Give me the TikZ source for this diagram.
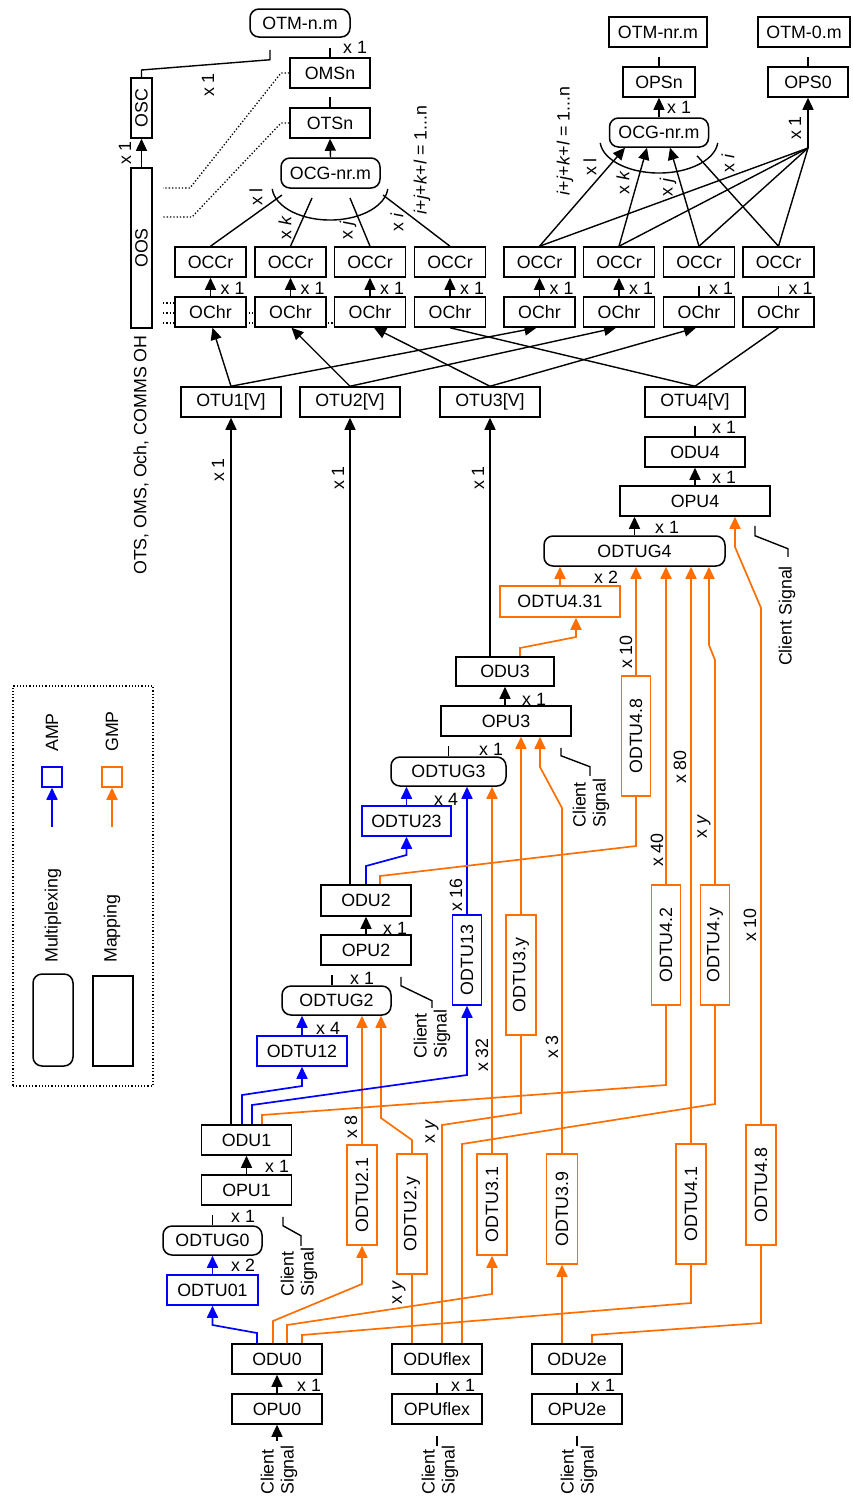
\documentclass[tikz,border=0pt]{standalone}
\usepackage{fontspec}
\setmainfont{Liberation Sans}
\usetikzlibrary{arrows.meta}
\definecolor{orng}{RGB}{255,110,0}
\definecolor{blu}{RGB}{0,0,255}
\newcommand\fs{\fontsize{17.8}{20}\selectfont}
\newcommand\BX[6]{\node[#1,minimum width=#4pt,minimum height=#5pt] (#2) at (#3) {#6};}
\newcommand\VT[1]{\rotatebox{90}{#1}}
\pgfdeclarelayer{bg}
\pgfsetlayers{bg,main}
\begin{document}
\begin{tikzpicture}[x=1pt,y=-1pt,
 every node/.style={font=\fs},
 bx/.style={draw,line width=1.5pt,fill=white,inner sep=0pt},
 rbx/.style={bx,rounded corners=9pt},
 obx/.style={bx,draw=orng},
 bbx/.style={bx,draw=blu},
 ln/.style={line width=1.4pt},
 arr/.style={ln,-{Triangle[length=12pt,width=11pt]}},
 oln/.style={line width=1.7pt,draw=orng},
 oarr/.style={oln,-{Triangle[length=12pt,width=11pt]}},
 bln/.style={line width=1.7pt,draw=blu},
 barr/.style={bln,-{Triangle[length=12pt,width=11pt]}},
 lab/.style={inner sep=0pt},
 rlab/.style={inner sep=0pt,rotate=90},
 dot/.style={dotted,line width=1.3pt}]
\useasboundingbox (0,0) rectangle (852,1497);

% ---------- top left ----------
\BX{rbx}{OTMnm}{300,23}{100}{28}{OTM-n.m}
\BX{bx}{OMSn}{330,73}{80}{30}{OMSn}
\BX{bx}{OTSn}{330,123}{80}{30}{OTSn}
\BX{rbx}{OCGL}{330.5,173}{99}{30}{OCG-nr.m}
\BX{bx}{OSC}{141.5,108}{21}{60}{\VT{OSC}}
\BX{bx}{OOS}{141.5,248}{21}{160}{\VT{OOS}}
% ---------- top right ----------
\BX{bx}{OTMnr}{658,32}{98}{30}{OTM-nr.m}
\BX{bx}{OTMz}{804,32}{92}{30}{OTM-0.m}
\BX{bx}{OPSn}{659,82}{72}{30}{OPSn}
\BX{bx}{OPSz}{808,82}{80}{30}{OPS0}
\BX{rbx}{OCGR}{659,132.5}{99}{29}{OCG-nr.m}
\coordinate (hub) at (808,148);
% ---------- OCCr / OChr ----------
\foreach \i/\x in {1/210.5,2/290.5,3/370,4/450,5/539.5,6/619,7/699,8/778.5}{
  \BX{bx}{OCCr\i}{\x,262}{71}{30}{OCCr}
  \BX{bx}{OChr\i}{\x,312}{71}{30}{OChr}
  \path (OCCr\i.south) ++(10,11) node[lab,anchor=west] (xc\i) {x 1};
}
% ---------- OTU ----------
\BX{bx}{OTU1}{231,402}{100}{30}{OTU1[V]}
\BX{bx}{OTU2}{350,402}{100}{30}{OTU2[V]}
\BX{bx}{OTU3}{490,402}{100}{30}{OTU3[V]}
\BX{bx}{OTU4}{695,402}{100}{30}{OTU4[V]}
% ---------- ODU/OPU ----------
\BX{bx}{ODU4}{695,452}{100}{30}{ODU4}
\BX{bx}{OPU4}{695,501}{150}{30}{OPU4}
\BX{rbx}{ODTUG4}{634.5,551}{181}{30}{ODTUG4}
\BX{obx}{ODTU431}{560,601.5}{120}{31}{ODTU4.31}
\BX{bx}{ODU3}{505,671.5}{98}{29}{ODU3}
\BX{bx}{OPU3}{506,721}{130}{30}{OPU3}
\BX{rbx}{ODTUG3}{448.5,771.5}{115}{29}{ODTUG3}
\BX{bbx}{ODTU23}{406.5,821}{89}{30}{ODTU23}
\BX{bx}{ODU2}{366,900.5}{90}{31}{ODU2}
\BX{bx}{OPU2}{366,950}{90}{30}{OPU2}
\BX{rbx}{ODTUG2}{336.5,1000.5}{109}{29}{ODTUG2}
\BX{bbx}{ODTU12}{302,1051}{90}{30}{ODTU12}
\BX{bx}{ODU1}{246.5,1140}{90}{30}{ODU1}
\BX{bx}{OPU1}{246.5,1190}{90}{30}{OPU1}
\BX{rbx}{ODTUG0}{212.5,1240.5}{99}{29}{ODTUG0}
\BX{bbx}{ODTU01}{212.5,1290}{91}{30}{ODTU01}
\BX{bx}{ODU0}{277,1359}{90}{30}{ODU0}
\BX{bx}{OPU0}{277,1409}{90}{30}{OPU0}
\BX{bx}{ODUflex}{437,1359}{90}{30}{ODUflex}
\BX{bx}{OPUflex}{437,1409}{90}{30}{OPUflex}
\BX{bx}{ODU2e}{577,1359}{90}{30}{ODU2e}
\BX{bx}{OPU2e}{577,1409}{90}{30}{OPU2e}
% ---------- vertical ODTU boxes ----------
\BX{obx}{ODTU48L}{636,736}{29}{120}{\VT{ODTU4.8}}
\BX{obx}{ODTU42}{666,945}{29}{120}{\VT{ODTU4.2}}
\BX{obx}{ODTU4y}{715,945}{29}{120}{\VT{ODTU4.y}}
\BX{obx}{ODTU3y}{521,975}{30}{120}{\VT{ODTU3.y}}
\BX{bbx}{ODTU13}{467,960}{29}{90}{\VT{ODTU13}}
\BX{obx}{ODTU21}{362,1195}{30}{100}{\VT{ODTU2.1}}
\BX{obx}{ODTU2y}{412,1214}{30}{120}{\VT{ODTU2.y}}
\BX{obx}{ODTU31}{492,1204.5}{30}{101}{\VT{ODTU3.1}}
\BX{obx}{ODTU39}{562,1209}{31}{110}{\VT{ODTU3.9}}
\BX{obx}{ODTU41}{691,1204}{30}{120}{\VT{ODTU4.1}}
\BX{obx}{ODTU48R}{761,1185}{30}{120}{\VT{ODTU4.8}}

% ---------- legend ----------
\node[draw,dotted,line width=1.2pt,minimum width=140pt,minimum height=400pt,inner sep=0pt] (legend) at (83,886) {};
\node[rbx,minimum width=40pt,minimum height=92pt] (lgM) at (53,1020) {};
\node[bx,minimum width=40pt,minimum height=90pt] (lgP) at (113,1021) {};
\node[rlab,anchor=west] (lgMt) at (53,963) {Multiplexing};
\node[rlab,anchor=west] (lgPt) at (112,963) {Mapping};
\node[bbx,minimum width=20pt,minimum height=20pt] (lgA) at (52,777) {};
\node[obx,minimum width=20pt,minimum height=20pt] (lgG) at (112,777) {};
\node[rlab,anchor=west] (lgAt) at (52,752) {AMP};
\node[rlab,anchor=west] (lgGt) at (112,752) {GMP};
\coordinate (lgAs) at (52,827);
\coordinate (lgGs) at (112,827);

% ---------- labels ----------
\node[rlab,anchor=west] (ohlab) at (141,575) {OTS, OMS, Och, COMMS OH};
\node[rlab] (t1) at (208,85) {x 1};
\node[rlab] (t2) at (125,153) {x 1};
\node[lab,anchor=west] (t3) at (343,47) {x 1};
\node[rlab] (eqL) at (422,160) {\textit{i}+\textit{j}+\textit{k}+\textit{l} = 1...n};
\node[rlab] (xlL) at (256,197) {x l};
\node[rlab] (xkL) at (285,228) {x \textit{k}};
\node[rlab] (xjL) at (348,230) {x \textit{j}};
\node[rlab] (xiL) at (397,222) {x \textit{i}};
\node[rlab] (eqR) at (565,141) {\textit{i}+\textit{j}+\textit{k}+\textit{l} = 1...n};
\node[rlab] (xlR) at (590,167) {x l};
\node[rlab] (xkR) at (623,183) {x \textit{k}};
\node[rlab] (xjR) at (668,187) {x \textit{j}};
\node[rlab] (xiR) at (728,163) {x \textit{i}};
\node[lab,anchor=west] (t4) at (667,107) {x 1};
\node[rlab] (t5) at (795,128) {x 1};
\node[rlab] (t6) at (218,470) {x 1};
\node[rlab] (t7) at (338,478) {x 1};
\node[rlab] (t8) at (478,478) {x 1};
\node[lab,anchor=west] (t9) at (712,427) {x 1};
\node[lab,anchor=west] (t10) at (712,477) {x 1};
\node[lab,anchor=west] (t11) at (655,527) {x 1};
\node[rlab] (cs4) at (787,616) {Client Signal};
\node[lab,anchor=west] (t12) at (594,577) {x 2};
\node[rlab] (t13) at (626,652) {x 10};
\node[rlab] (t14) at (680,767) {x 80};
\node[rlab] (t15) at (704,827) {x \textit{y}};
\node[rlab] (t16) at (657,850) {x 40};
\node[rlab] (t17) at (750,925) {x 10};
\node[lab,anchor=west] (t18) at (522,699) {x 1};
\node[lab,anchor=west] (t19) at (479,749) {x 1};
\node[rlab,align=left] (cs3) at (591,803) {Client\\Signal};
\node[lab,anchor=west] (t20) at (434,799) {x 4};
\node[rlab] (t21) at (456,895) {x 16};
\node[lab,anchor=west] (t22) at (383,928) {x 1};
\node[lab,anchor=west] (t23) at (350,978) {x 1};
\node[rlab,align=left] (cs2) at (432,1034) {Client\\Signal};
\node[lab,anchor=west] (t24) at (316,1028) {x 4};
\node[rlab] (t25) at (482,1055) {x 32};
\node[rlab] (t26) at (552,1047) {x 3};
\node[rlab] (t27) at (351,1127) {x 8};
\node[rlab] (t28) at (432,1132) {x \textit{y}};
\node[lab,anchor=west] (t29) at (265,1166) {x 1};
\node[lab,anchor=west] (t30) at (231,1216) {x 1};
\node[rlab,align=left] (cs1) at (299,1272) {Client\\Signal};
\node[lab,anchor=west] (t31) at (231,1265) {x 2};
\node[rlab] (t32) at (399,1293) {x \textit{y}};
\node[lab,anchor=west] (t33) at (297,1385) {x 1};
\node[lab,anchor=west] (t34) at (451,1385) {x 1};
\node[lab,anchor=west] (t35) at (591,1385) {x 1};
\node[rlab,align=left] (cs0) at (279,1470) {Client\\Signal};
\node[rlab,align=left] (csf) at (440,1470) {Client\\Signal};
\node[rlab,align=left] (cse) at (579,1470) {Client\\Signal};

\begin{pgfonlayer}{bg}
% top left
\draw[ln] ([xshift=-30pt,yshift=-12pt]OTMnm.south) -- ++(0,10) -- (141.5,70) -- (OSC.north);
\draw[ln] ([yshift=9pt]OMSn.north) -- (OMSn.north);
\draw[ln] ([yshift=10pt]OTSn.north) -- (OTSn.north);
\draw[arr] (OCGL.north) -- (OTSn.south);
\draw[arr] (OOS.north) -- (OSC.south);
\draw[dot] (OMSn.west) -- (281,73) -- (190,188) -- (163,188);
\draw[dot] (OTSn.west) -- (281,123) -- (192,217) -- (163,217);
\draw[dot] (163,303) -- ([yshift=9pt]OChr1.west);
\draw[dot] (163,313) -- ([yshift=-1pt]OChr2.west);
\draw[dot] (163,323) -- ([yshift=-11pt]OChr3.west);
\draw[ln] (272.2,189) arc[start angle=185,end angle=355,x radius=58pt,y radius=34pt];
\draw[ln] (OCCr1.north) -- (282,195);
\draw[ln] (OCCr2.north) -- (312,198);
\draw[ln] (OCCr3.north) -- (350,198);
\draw[ln] (OCCr4.north) -- (383,195);
% top right
\draw[ln] ([yshift=9pt]OPSn.north) -- (OPSn.north);
\draw[ln] ([yshift=9pt]OPSz.north) -- (OPSz.north);
\draw[arr] (OCGR.north) -- (OPSn.south);
\draw[arr] (hub) -- (OPSz.south);
\foreach \i in {5,...,8}{\draw[ln] (hub) -- (OCCr\i.north);}
\draw[ln] (600.2,142.9) arc[start angle=185,end angle=355,x radius=59pt,y radius=33pt];
\draw[arr] (OCCr5.north) -- ([xshift=-34pt]OCGR.south);
\draw[arr] (OCCr6.north) -- ([xshift=-12pt]OCGR.south);
\draw[arr] (OCCr7.north) -- ([xshift=11pt]OCGR.south);
\draw[ln] (OCCr8.north) -- ([xshift=38pt,yshift=-8pt]OCGR.south);
% OChr -> OCCr
\foreach \i in {1,...,6}{\draw[arr] (OChr\i.north) -- (OCCr\i.south);}
\draw[ln] ([yshift=10pt]OChr7.north) -- (OChr7.north);
\draw[ln] ([yshift=10pt]OChr8.north) -- (OChr8.north);
% OTU -> OChr
\draw[arr] (OTU1.north) -- ([xshift=2pt]OChr1.south);
\draw[arr] (OTU1.north) -- ([xshift=-3pt]OChr5.south);
\draw[arr] (OTU2.north) -- ([xshift=1pt]OChr2.south);
\draw[arr] (OTU2.north) -- ([xshift=-3pt]OChr6.south);
\draw[arr] (OTU3.north) -- ([xshift=4pt]OChr3.south);
\draw[arr] (OTU3.north) -- ([xshift=-3pt]OChr7.south);
\draw[ln] (OTU4.north) -- (OChr4.south);
\draw[ln] (OTU4.north) -- (OChr8.south);
% ODU -> OTU
\draw[arr] (OTU1.south |- ODU1.north) -- (OTU1.south);
\draw[arr] (OTU2.south |- ODU2.north) -- (OTU2.south);
\draw[arr] (OTU3.south |- ODU3.north) -- (OTU3.south);
\draw[ln] ([yshift=10pt]ODU4.north) -- (ODU4.north);
\draw[arr] (OPU4.north) -- (ODU4.south);
\draw[arr] (ODTUG4.north) -- (ODTUG4.north |- OPU4.south);
\draw[oarr] (ODTU48R.north) -- (761,608) -- (735,547) -- ([xshift=40pt]OPU4.south);
\draw[ln] ([xshift=60pt,yshift=-9pt]OPU4.south) -- ++(0,10) -- ++(33,13) -- ++(0,8);
% ODTUG4 inputs
\draw[oarr] (ODTU431.north) -- (ODTU431.north |- ODTUG4.south);
\draw[oarr] ([xshift=15pt]ODU3.north) -- (520,648) -- (576,637) -- ([xshift=16pt]ODTU431.south);
\draw[oarr] (ODTU48L.north) -- (ODTU48L.north |- ODTUG4.south);
\draw[oarr] (ODTU42.north) -- (ODTU42.north |- ODTUG4.south);
\draw[oarr] (ODTU41.north) -- (ODTU41.north |- ODTUG4.south);
\draw[oarr] (ODTU4y.north) -- (715,660) -- (709,645) -- ([xshift=74.5pt]ODTUG4.south);
% OPU3 / ODTUG3
\draw[arr] (ODU3.south |- OPU3.north) -- (ODU3.south);
\draw[ln] ([yshift=10pt]ODTUG3.north) -- (ODTUG3.north);
\draw[ln] ([xshift=55pt,yshift=-11pt]OPU3.south) -- ++(0,8) -- ++(29,11) -- ++(0,9);
\draw[barr] (ODTU23.north) -- (ODTU23.north |- ODTUG3.south);
\draw[barr] (ODTU13.north) -- (ODTU13.north |- ODTUG3.south);
\draw[oarr] (ODTU31.north) -- (ODTU31.north |- ODTUG3.south);
\draw[oarr] (ODTU3y.north) -- (ODTU3y.north |- OPU3.south);
\draw[oarr] (ODTU39.north) -- (562,808) -- (540,767) -- ([xshift=34pt]OPU3.south);
% ODU2
\draw[barr] (ODU2.north) -- (366,866) -- (406.5,855) -- (ODTU23.south);
\draw[oln] ([xshift=14pt]ODU2.north) -- (380,876) -- (636,846) -- (ODTU48L.south);
\draw[arr] (OPU2.north) -- (ODU2.south);
\draw[ln] ([xshift=-4.5pt,yshift=10pt]ODTUG2.north) -- ([xshift=-4.5pt]ODTUG2.north);
\draw[ln] ([xshift=35pt,yshift=-11pt]OPU2.south) -- ++(0,9) -- ++(31,15) -- ++(0,7);
\draw[barr] (ODTU12.north) -- (ODTU12.north |- ODTUG2.south);
\draw[oarr] (ODTU21.north) -- (ODTU21.north |- ODTUG2.south);
\draw[oarr] (ODTU2y.north) -- (412,1140) -- (381,1118) -- ([xshift=44.5pt]ODTUG2.south);
% ODU1
\draw[barr] ([xshift=-4.5pt]ODU1.north) -- (242,1095) -- (302,1086) -- (ODTU12.south);
\draw[barr] ([xshift=5.5pt]ODU1.north) -- (252,1105) -- (467,1075) -- (ODTU13.south);
\draw[oln] ([xshift=15.5pt]ODU1.north) -- (262,1115) -- (666,1085) -- (ODTU42.south);
\draw[arr] (OPU1.north) -- (ODU1.south);
\draw[ln] ([yshift=10pt]ODTUG0.north) -- (ODTUG0.north);
\draw[ln] ([xshift=36.5pt,yshift=-11pt]OPU1.south) -- ++(0,9) -- ++(18,10) -- ++(0,10);
\draw[barr] (ODTU01.north) -- (ODTUG0.south);
% ODU0
\draw[barr] ([xshift=-20pt]ODU0.north) -- (257,1333) -- (212.5,1325) -- (ODTU01.south);
\draw[oarr] ([xshift=-4pt]ODU0.north) -- (273,1321) -- (362,1284) -- (ODTU21.south);
\draw[oarr] ([xshift=10pt]ODU0.north) -- (287,1325) -- (492,1294) -- (ODTU31.south);
\draw[oln] ([xshift=25pt]ODU0.north) -- (302,1335) -- (691,1303) -- (ODTU41.south);
\draw[arr] (OPU0.north) -- (ODU0.south);
\draw[arr] ([yshift=-16pt]OPU0.south) -- (OPU0.south);
% ODUflex
\draw[oln] ([xshift=-25pt]ODUflex.north) -- (ODTU2y.south);
\draw[oln] ([xshift=5pt]ODUflex.north) -- (442,1125) -- (521,1113) -- (ODTU3y.south);
\draw[oln] ([xshift=25pt]ODUflex.north) -- (462,1144) -- (715,1104) -- (ODTU4y.south);
\draw[ln] ([yshift=10pt]OPUflex.north) -- (OPUflex.north);
\draw[ln] ([yshift=-11pt]OPUflex.south) -- ([yshift=-21pt]OPUflex.south);
% ODU2e
\draw[oarr] (ODTU39.south |- ODU2e.north) -- (ODTU39.south);
\draw[oln] ([xshift=15pt]ODU2e.north) -- (592,1335) -- (761,1323) -- (ODTU48R.south);
\draw[ln] ([yshift=10pt]OPU2e.north) -- (OPU2e.north);
\draw[ln] ([yshift=-11pt]OPU2e.south) -- ([yshift=-21pt]OPU2e.south);
% legend arrows
\draw[barr] (lgAs) -- (lgA.south);
\draw[oarr] (lgGs) -- (lgG.south);
\end{pgfonlayer}
\end{tikzpicture}
\end{document}
